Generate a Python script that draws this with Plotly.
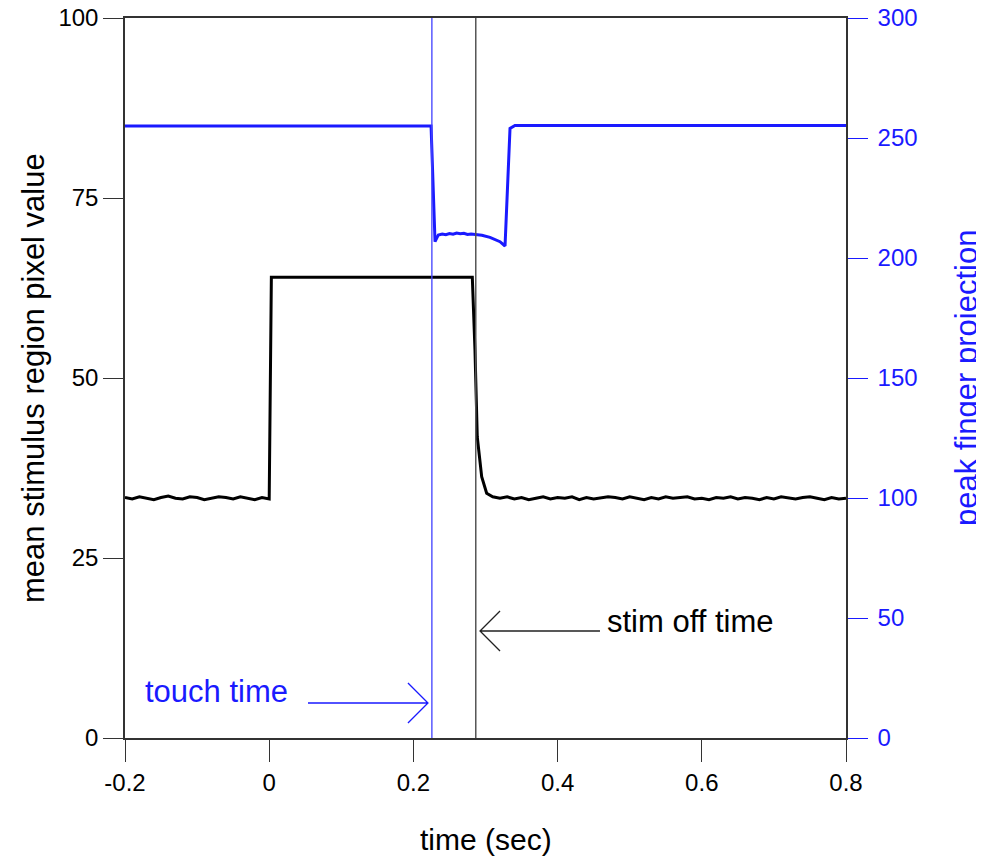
import numpy as np
import plotly.graph_objects as go

# ---------------- data ----------------
# mean stimulus region pixel value (left axis), black trace
pre_t = [round(-0.20 + 0.01 * i, 3) for i in range(20)]
pre_v = [33.4, 33.2, 33.5, 33.3, 33.1, 33.4, 33.6, 33.3, 33.2, 33.5,
         33.4, 33.1, 33.3, 33.5, 33.4, 33.2, 33.5, 33.3, 33.1, 33.4]
step_t = [0.000, 0.003, 0.100, 0.200, 0.2817, 0.2854, 0.2886, 0.2947, 0.3016, 0.3100]
step_v = [33.2, 64.0, 64.0, 64.0, 64.0, 53.9, 41.8, 36.3, 34.0, 33.5]
post_t = [round(0.32 + 0.01 * i, 3) for i in range(49)]
post_v = [33.3, 33.5, 33.2, 33.4, 33.1, 33.3, 33.5, 33.2, 33.4, 33.3,
          33.5, 33.1, 33.4, 33.2, 33.3, 33.5, 33.4, 33.2, 33.5, 33.3,
          33.1, 33.4, 33.2, 33.5, 33.3, 33.4, 33.5, 33.2, 33.3, 33.1,
          33.4, 33.3, 33.5, 33.2, 33.4, 33.3, 33.1, 33.4, 33.2, 33.5,
          33.3, 33.2, 33.4, 33.5, 33.3, 33.1, 33.4, 33.2, 33.3]
stim_t = pre_t + step_t + post_t
stim_v = pre_v + step_v + post_v

# peak finger projection (right axis), blue trace
finger_t = [-0.200, 0.100, 0.2245, 0.2300, 0.2346, 0.2400, 0.2450, 0.2500, 0.2550,
            0.2600, 0.2650, 0.2700, 0.2750, 0.2800, 0.2878, 0.2950, 0.3062,
            0.3201, 0.3271, 0.3340, 0.3409, 0.5000, 0.8000]
finger_v = [255.0, 255.0, 255.0, 206.8, 209.6, 210.0, 209.7, 210.2, 209.9,
            210.4, 210.1, 210.3, 209.8, 210.0, 209.8, 209.5, 208.6,
            206.8, 205.0, 254.0, 255.2, 255.2, 255.2]

touch_time = 0.2256
stim_off_time = 0.2865

x_ticks = [-0.2, 0, 0.2, 0.4, 0.6, 0.8]
x_ticktext = ["-0.2", "0", "0.2", "0.4", "0.6", "0.8"]
left_ticks = [0, 25, 50, 75, 100]
right_ticks = [0, 50, 100, 150, 200, 250, 300]

# annotation anchors (data coordinates, left axis)
touch_label = ("touch time", -0.175, 6.4)
touch_arrow = (0.0538, 0.2202, 4.86)      # tail x, tip x, y
stim_label = ("stim off time", 0.4657, 16.25)
stim_arrow = (0.4588, 0.2924, 14.86)      # tail x, tip x, y

# ---------------- figure ----------------
FONT = "Liberation Sans, Arial, Helvetica, sans-serif"
BLUE = "#1a1aff"

X_RANGE = [-0.2, 0.8]
Y_RANGE = [0, 100]
# the page body has an 8px margin, so the figure is drawn 8px in from the corner
W, H = 976, 850
M = dict(l=117, r=138, t=10, b=120, autoexpand=False)
px_x = (X_RANGE[1] - X_RANGE[0]) / (W - M["l"] - M["r"])
px_y = (Y_RANGE[1] - Y_RANGE[0]) / (H - M["t"] - M["b"])
HEAD = 20  # arrow head leg size in pixels

fig = go.Figure()

fig.add_trace(go.Scatter(x=stim_t, y=stim_v, mode="lines",
                         line=dict(color="black", width=3), yaxis="y",
                         showlegend=False, hoverinfo="skip"))
fig.add_trace(go.Scatter(x=finger_t, y=finger_v, mode="lines",
                         line=dict(color=BLUE, width=3), yaxis="y2",
                         showlegend=False, hoverinfo="skip"))

# vertical event lines
fig.add_shape(type="line", xref="x", yref="paper", x0=touch_time, x1=touch_time,
              y0=0, y1=1, line=dict(color="rgba(70,70,255,0.9)", width=1.5))
fig.add_shape(type="line", xref="x", yref="paper", x0=stim_off_time, x1=stim_off_time,
              y0=0, y1=1, line=dict(color="#555555", width=1.5))


def arrow(tail, tip, y, color):
    direction = 1 if tip > tail else -1
    hx = tip - direction * HEAD * px_x
    hy = HEAD * px_y
    path = (f"M {tail},{y} L {tip},{y} "
            f"M {hx},{y + hy} L {tip},{y} L {hx},{y - hy}")
    fig.add_shape(type="path", xref="x", yref="y", path=path,
                  line=dict(color=color, width=1.3))


arrow(touch_arrow[0], touch_arrow[1], touch_arrow[2], BLUE)
arrow(stim_arrow[0], stim_arrow[1], stim_arrow[2], "#222222")

TXT = 31
TICK = 24
fig.add_annotation(text=touch_label[0], x=touch_label[1], y=touch_label[2],
                   xref="x", yref="y", xanchor="left", yanchor="middle",
                   showarrow=False, font=dict(family=FONT, size=TXT, color=BLUE))
fig.add_annotation(text=stim_label[0], x=stim_label[1], y=stim_label[2],
                   xref="x", yref="y", xanchor="left", yanchor="middle",
                   showarrow=False, font=dict(family=FONT, size=TXT, color="black"))

# axis titles as annotations for precise placement
fig.add_annotation(text="time (sec)", x=0.5, y=0, xref="paper", yref="paper",
                   xanchor="center", yanchor="middle", yshift=-101, showarrow=False,
                   font=dict(family=FONT, size=30, color="black"))
fig.add_annotation(text="mean stimulus region pixel value", x=0, y=0.5,
                   xref="paper", yref="paper", xanchor="center", yanchor="middle",
                   xshift=-92, textangle=-90, showarrow=False,
                   font=dict(family=FONT, size=TXT, color="black"))
fig.add_annotation(text="peak finger projection", x=1, y=0.5,
                   xref="paper", yref="paper", xanchor="center", yanchor="middle",
                   xshift=120, textangle=-90, showarrow=False,
                   font=dict(family=FONT, size=TXT, color=BLUE))

fig.update_layout(
    width=W, height=H, margin=M,
    paper_bgcolor="white", plot_bgcolor="white",
    font=dict(family=FONT, size=TICK, color="black"),
    xaxis=dict(range=X_RANGE, tickvals=x_ticks, ticktext=x_ticktext,
               ticks="outside", ticklen=22, tickwidth=1.2, tickcolor="#333",
               showline=True, linecolor="#333", linewidth=1.5, mirror=True,
               showgrid=False, zeroline=False, automargin=False,
               ticklabeloverflow="allow", tickfont=dict(size=TICK)),
    yaxis=dict(range=Y_RANGE, tickvals=left_ticks,
               ticks="outside", ticklen=20, tickwidth=1.2, tickcolor="#333",
               showline=True, linecolor="#333", linewidth=1.5,
               showgrid=False, zeroline=False, automargin=False,
               ticklabeloverflow="allow", tickfont=dict(size=TICK)),
    yaxis2=dict(range=[0, 300], tickvals=right_ticks, overlaying="y", side="right",
                ticks="outside", ticklen=20, tickwidth=1.2, tickcolor=BLUE,
                showline=True, linecolor="#333", linewidth=1.5,
                showgrid=False, zeroline=False, automargin=False,
                ticklabeloverflow="allow", ticklabelstandoff=5,
                tickfont=dict(size=TICK, color=BLUE)),
)

fig.write_html("out.html")
